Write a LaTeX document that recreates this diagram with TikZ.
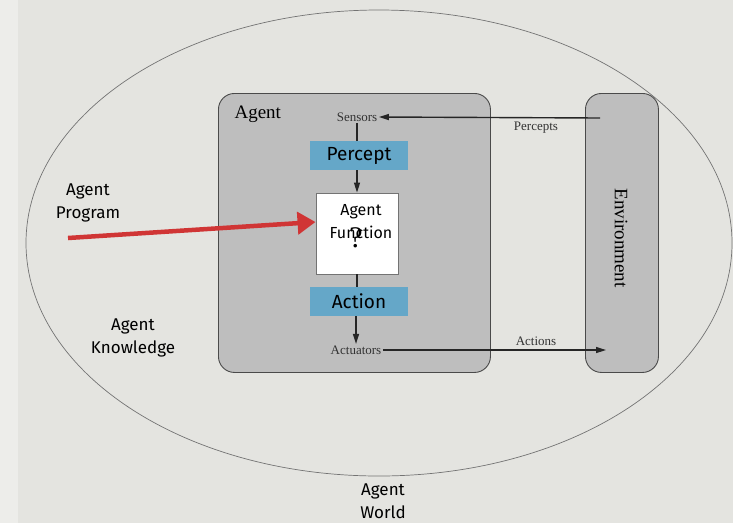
\documentclass[tikz,border=0pt]{standalone}
\usepackage{fontspec}
\setmainfont{Liberation Serif}
\newfontfamily\handfont{Fira Sans}
\usetikzlibrary{arrows.meta}
\definecolor{bgcol}{HTML}{E4E4E0}
\definecolor{boxgray}{HTML}{BEBEBE}
\definecolor{edgegray}{HTML}{4A4A4A}
\definecolor{bluebox}{HTML}{65A7C8}
\definecolor{redarrow}{HTML}{D03535}
\tikzset{
  x=1pt,y=-1pt,
  panel/.style={draw=edgegray,fill=boxgray,rounded corners=16pt,line width=0.9pt},
  bluestep/.style={fill=bluebox,minimum width=98pt,minimum height=29pt,inner sep=0pt,font=\handfont\fontsize{19}{19}\selectfont},
  small/.style={font=\fontsize{13}{13}\selectfont,text=black!80,inner sep=1.5pt},
  hand/.style={font=\handfont\fontsize{17}{23}\selectfont,align=center},
  link/.style={draw=black!85,line width=1.4pt},
  tip/.style={-{Triangle[length=10pt,width=6pt]}}
}
\begin{document}
\begin{tikzpicture}
\fill[bgcol] (0,0) rectangle (733,523);
\fill[white,opacity=0.35] (0,0) rectangle (18,523);
\useasboundingbox (0,0) rectangle (733,523);
% world ellipse
\draw[black!55,line width=0.7pt] (379,243) ellipse [x radius=353, y radius=233];
% panels
\node[panel,minimum width=272pt,minimum height=279pt,anchor=north west] (agent) at (218,93) {};
\node[panel,minimum width=73pt,minimum height=279pt,anchor=north west] (env) at (585,93) {};
\node[rotate=-90,font=\fontsize{19}{19}\selectfont] (envlabel) at (621,238) {Environment};
\node[font=\fontsize{19}{19}\selectfont,anchor=west] (agentlabel) at (231,114) {Agent};
% inner nodes
\node[small] (sensors) at (357,117) {Sensors};
\node[bluestep] (percept) at (359,155.5) {Percept};
\node[draw=black!55,fill=white,line width=0.9pt,minimum width=82pt,minimum height=81pt,inner sep=0pt] (func) at (357,233.5) {};
\node[font=\fontsize{30}{30}\selectfont] (qmark) at (356,238) {?};
\node[hand,font=\handfont\fontsize{16}{23}\selectfont] (funclabel) at (361,222) {Agent\\Function};
\node[bluestep] (action) at (359,301.5) {Action};
\node[small] (actuators) at (356,350) {Actuators};
% internal connectors
\draw[link] (sensors.south) -- (sensors.south |- percept.north);
\draw[link,tip] (func.north |- percept.south) -- (func.north);
\draw[link] (func.south) -- (func.south |- action.north);
\draw[link,tip] (actuators.north |- action.south) -- (actuators.north);
% percepts / actions
\coordinate (pstart) at (600,118);
\coordinate (aend) at (606,350);
\draw[link,tip] (pstart) -- (sensors.east);
\node[small] (perceptslabel) at (536,128) {Percepts};
\draw[link,tip] (actuators.east) -- (aend);
\node[small] (actionslabel) at (536,341) {Actions};
% red arrow
\coordinate (rstart) at (68,238);
\draw[redarrow,line width=4.5pt,-{Triangle[length=18pt,width=22pt]}] (rstart) -- (func.west |- 0,222);
% labels
\node[hand] (prog) at (88,203) {Agent\\Program};
\node[hand] (know) at (133,338) {Agent\\Knowledge};
\node[hand] (world) at (383,501) {Agent\\World};
\end{tikzpicture}
\end{document}
